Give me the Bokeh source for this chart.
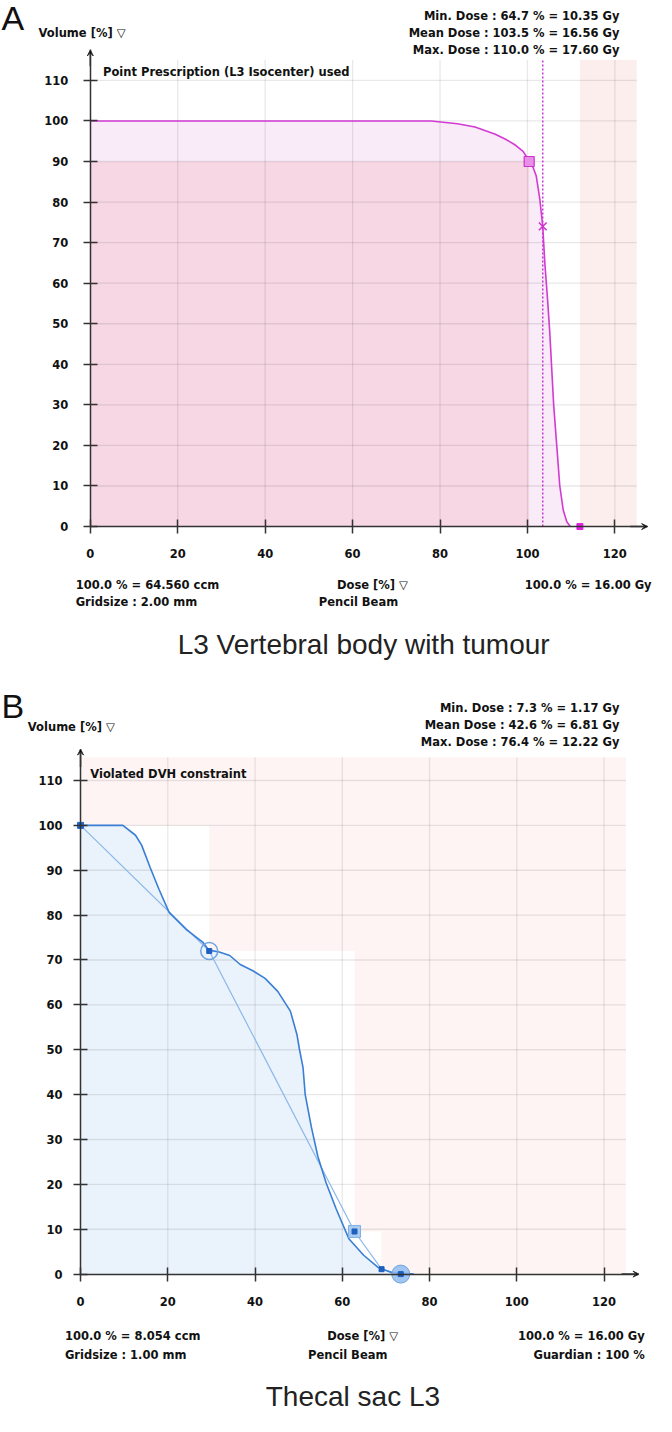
from bokeh.plotting import figure
from bokeh.models import Label, Arrow, VeeHead, FixedTicker
from bokeh.layouts import column
from bokeh.embed import file_html
from bokeh.resources import INLINE

# ---------------- data ----------------
x_ticks = [0, 20, 40, 60, 80, 100, 120]
y_ticks = [0, 10, 20, 30, 40, 50, 60, 70, 80, 90, 100, 110]

# Panel A : L3 vertebral body with tumour (cumulative DVH)
a_dose = [0, 78, 84, 88, 92.5, 95, 97.3, 99, 100.4, 101.3, 102, 102.8, 103.5,
          104, 104.6, 105.1, 105.5, 106, 106.7, 107.4, 108.2, 109, 109.8]
a_vol = [100, 100, 99.3, 98.5, 96.8, 95.5, 94, 92.5, 90.2, 88.5, 86.5, 81, 74,
         64.6, 56, 48, 40, 30, 20, 10, 4, 1.2, 0]
a_cov_dose, a_cov_vol = 100.4, 90.0      # coverage point (square marker)
a_mean_dose, a_mean_vol = 103.5, 74.0    # mean dose (x marker)
a_limit_dose = 112.0                      # upper limit marker
a_scale_end = 125.0
a_grid_top = 115.0
a_axis_x_end, a_axis_y_end = 127.5, 117.5
a_stats = ["Min. Dose : 64.7 % = 10.35 Gy",
           "Mean Dose : 103.5 % = 16.56 Gy",
           "Max. Dose : 110.0 % = 17.60 Gy"]

# Panel B : thecal sac L3
b_dose = [0, 9.7, 12.6, 14, 16, 18, 20.3, 24.1, 28, 29.4, 31.8, 34.2, 36.6, 39.5,
          42.3, 45.2, 48.1, 49.6, 50.2, 51, 51.5, 52.9, 54.4, 56.3, 58.6, 61.5,
          64.9, 68.2, 71.1, 76.4]
b_vol = [100, 100, 97.8, 95.6, 90.5, 85.7, 80.6, 76.9, 74, 72.2, 71.8, 71, 69,
         67.6, 65.9, 63, 58.6, 53.4, 50, 46, 40, 32.8, 26.2, 20.3, 14.5, 7.9,
         4.2, 1.5, 0.4, 0]
b_con_dose = [0, 29.5, 62.8, 69, 73.4]
b_con_vol = [100, 72, 9.5, 1.1, 0]
b_scale_end = 125.0
b_grid_top = 115.2
b_axis_x_end, b_axis_y_end = 128.0, 117.0
b_stats = ["Min. Dose : 7.3 % = 1.17 Gy",
           "Mean Dose : 42.6 % = 6.81 Gy",
           "Max. Dose : 76.4 % = 12.22 Gy"]

FONT = "DejaVu Sans"
TITLE_FONT = "Liberation Sans"
W, H_TOTAL = 656, 1416
KX, KY = W / 672.0, H_TOTAL / 1432.0   # reference picture -> page scale
H_A = 682
H_B = H_TOTAL - H_A


class Geo:
    """maps reference-picture pixels to data of one panel (frame fills the figure)"""
    def __init__(self, fig_top, height, x0_ref, sx_ref, y0_ref, sy_ref):
        self.fig_top, self.height = fig_top, height
        self.x0, self.sx = x0_ref * KX, sx_ref * KX
        self.y0, self.sy = y0_ref * KY - fig_top, sy_ref * KY

    def xr(self):
        return ((0 - self.x0) / self.sx, (W - self.x0) / self.sx)

    def yr(self):
        return ((self.y0 - self.height) / self.sy, self.y0 / self.sy)

    def __call__(self, px, py):
        return (px * KX - self.x0) / self.sx, (self.y0 - (py * KY - self.fig_top)) / self.sy


def make_fig(g, xend, yend, standoff_y, standoff_x):
    p = figure(width=W, height=g.height, x_range=g.xr(), y_range=g.yr(),
               output_backend="svg", toolbar_location=None, min_border=0)
    p.title.visible = False
    p.outline_line_color = None
    p.xgrid.visible = False
    p.ygrid.visible = False
    p.background_fill_color = "white"
    p.border_fill_color = "white"
    for ax, tk, so, b in ((p.xaxis, x_ticks, standoff_x, (0, xend)),
                          (p.yaxis, y_ticks, standoff_y, (0, yend))):
        ax.fixed_location = 0
        ax.bounds = b
        ax.ticker = FixedTicker(ticks=tk)
        ax.minor_tick_line_color = None
        ax.major_tick_in = 7
        ax.major_tick_out = 7
        ax.major_tick_line_color = "#333333"
        ax.major_tick_line_width = 1.5
        ax.axis_line_color = "#333333"
        ax.axis_line_width = 1.5
        ax.major_label_text_font = FONT
        ax.major_label_text_font_style = "bold"
        ax.major_label_text_font_size = "11.5px"
        ax.major_label_text_color = "#111111"
        ax.major_label_standoff = so
    return p


def add_text(p, g, px, py, text, align="left", baseline="middle",
             size="11.5px", font=FONT, style="bold", color="#111111"):
    xd, yd = g(px, py)
    p.add_layout(Label(x=xd, y=yd, text=text, text_align=align,
                       text_baseline=baseline, text_font=font,
                       text_font_style=style, text_font_size=size,
                       text_color=color))


def grid(p, top, right):
    n = len(x_ticks) - 1
    p.segment(x0=x_ticks[1:], y0=[0] * n, x1=x_ticks[1:], y1=[top] * n,
              line_color="black", line_alpha=0.09, line_width=1.3)
    m = len(y_ticks) - 1
    p.segment(x0=[0] * m, y0=y_ticks[1:], x1=[right] * m, y1=y_ticks[1:],
              line_color="black", line_alpha=0.09, line_width=1.3)


def arrows(p, xend, yend):
    p.add_layout(Arrow(end=VeeHead(size=6, line_color="#333333", line_width=1),
                       x_start=0, y_start=yend - 4, x_end=0, y_end=yend,
                       line_color="#333333", line_width=1.5))
    p.add_layout(Arrow(end=VeeHead(size=6, line_color="#333333", line_width=1),
                       x_start=xend - 4, y_start=0, x_end=xend, y_end=0,
                       line_color="#333333", line_width=1.5))


# ---------------- Panel A ----------------
gA = Geo(fig_top=0, height=H_A, x0_ref=92, sx_ref=4.478, y0_ref=532, sy_ref=4.102)
pA = make_fig(gA, a_axis_x_end, a_axis_y_end, 15, 15)

pA.quad(left=[a_limit_dose], right=[a_scale_end], bottom=[0], top=[a_grid_top],
        fill_color="#fbeeed", line_color=None)
pA.varea(x=a_dose, y1=[0] * len(a_dose), y2=a_vol, fill_color="#f9ebf8")
pA.quad(left=[0], right=[a_cov_dose], bottom=[0], top=[a_cov_vol],
        fill_color="#f6d7e3", line_color=None)
grid(pA, a_grid_top, a_scale_end)
pA.segment(x0=[a_mean_dose], y0=[0], x1=[a_mean_dose], y1=[a_grid_top],
           line_color="#cc33dd", line_width=1.5, line_dash="2 2")
pA.line(a_dose, a_vol, line_color="#d23ad2", line_width=1.6)
pA.scatter([a_cov_dose], [a_cov_vol], marker="square", size=10,
           fill_color="#e890e8", line_color="#cc33cc", line_width=1.2)
pA.scatter([a_mean_dose], [a_mean_vol], marker="x", size=11,
           line_color="#cc33cc", line_width=1.5)
pA.scatter([a_limit_dose], [0], marker="square", size=6,
           fill_color="#e020e0", line_color="#e020e0")
arrows(pA, a_axis_x_end, a_axis_y_end)

add_text(pA, gA, 1, 18, "A", size="34px", font=TITLE_FONT, style="normal")
add_text(pA, gA, 39, 33, "Volume [%] \u25bd")
for i, s in enumerate(a_stats):
    add_text(pA, gA, 634, 16 + 17 * i, s, align="right")
add_text(pA, gA, 105, 72, "Point Prescription (L3 Isocenter) used")
add_text(pA, gA, 77, 591, "100.0 % = 64.560 ccm")
add_text(pA, gA, 77, 608, "Gridsize :  2.00 mm")
add_text(pA, gA, 381, 591, "Dose [%] \u25bd", align="center")
add_text(pA, gA, 326, 608, "Pencil Beam")
add_text(pA, gA, 667, 591, "100.0 % = 16.00 Gy", align="right")
add_text(pA, gA, 372, 651, "L3 Vertebral body with tumour", align="center",
         size="28px", font=TITLE_FONT, style="normal", color="#222222")

# ---------------- Panel B ----------------
gB = Geo(fig_top=H_A, height=H_B, x0_ref=82, sx_ref=4.469, y0_ref=1288, sy_ref=4.538)
pB = make_fig(gB, b_axis_x_end, b_axis_y_end, 11, 16)

# region above the constraint staircase
pB.quad(left=[0] + b_con_dose[1:], right=[b_scale_end] * len(b_con_dose),
        bottom=[b_con_vol[0]] + b_con_vol[1:],
        top=[b_grid_top] + b_con_vol[:-1],
        fill_color="#fdf4f3", line_color=None)
pB.varea(x=b_dose, y1=[0] * len(b_dose), y2=b_vol, fill_color="#eaf2fb")
grid(pB, b_grid_top, b_scale_end)
pB.line(b_con_dose, b_con_vol, line_color="#8bb8ea", line_width=1.2)
pB.line(b_dose, b_vol, line_color="#3a7fd5", line_width=1.6)
pB.scatter([b_con_dose[0]], [b_con_vol[0]], marker="square", size=6,
           fill_color="#1f66c8", line_color="#1f66c8")
pB.scatter([b_con_dose[1]], [b_con_vol[1]], marker="circle", size=17,
           fill_color=None, line_color="#6fa3e0", line_width=1.5)
pB.scatter([b_con_dose[1]], [b_con_vol[1]], marker="square", size=5,
           fill_color="#1f5fbf", line_color="#1f5fbf")
pB.scatter([b_con_dose[2]], [b_con_vol[2]], marker="square", size=12,
           fill_color="#a9cbf0", line_color="#7fb0e8", line_width=1)
pB.scatter([b_con_dose[2]], [b_con_vol[2]], marker="square", size=5,
           fill_color="#1f5fbf", line_color="#1f5fbf")
pB.scatter([b_con_dose[3]], [b_con_vol[3]], marker="square", size=5,
           fill_color="#1f5fbf", line_color="#1f5fbf")
pB.scatter([b_con_dose[4]], [b_con_vol[4]], marker="circle", size=18,
           fill_color="#8fbcef", fill_alpha=0.85, line_color="#6fa3e0", line_width=1)
pB.scatter([b_con_dose[4]], [b_con_vol[4]], marker="square", size=5,
           fill_color="#1f5fbf", line_color="#1f5fbf")
arrows(pB, b_axis_x_end, b_axis_y_end)

add_text(pB, gB, 1, 713, "B", size="34px", font=TITLE_FONT, style="normal")
add_text(pB, gB, 28, 735, "Volume [%] \u25bd")
for i, s in enumerate(b_stats):
    add_text(pB, gB, 634, 715 + 17.5 * i, s, align="right")
add_text(pB, gB, 92, 782, "Violated DVH constraint")
add_text(pB, gB, 66, 1351, "100.0 % = 8.054 ccm")
add_text(pB, gB, 66, 1370, "Gridsize :  1.00 mm")
add_text(pB, gB, 371, 1351, "Dose [%] \u25bd", align="center")
add_text(pB, gB, 315, 1370, "Pencil Beam")
add_text(pB, gB, 660, 1351, "100.0 % = 16.00 Gy", align="right")
add_text(pB, gB, 660, 1370, "Guardian : 100 %", align="right")
add_text(pB, gB, 361, 1412, "Thecal sac L3", align="center",
         size="28px", font=TITLE_FONT, style="normal", color="#222222")

layout = column(pA, pB, spacing=0)
open("out.html", "w").write(file_html(layout, INLINE))
